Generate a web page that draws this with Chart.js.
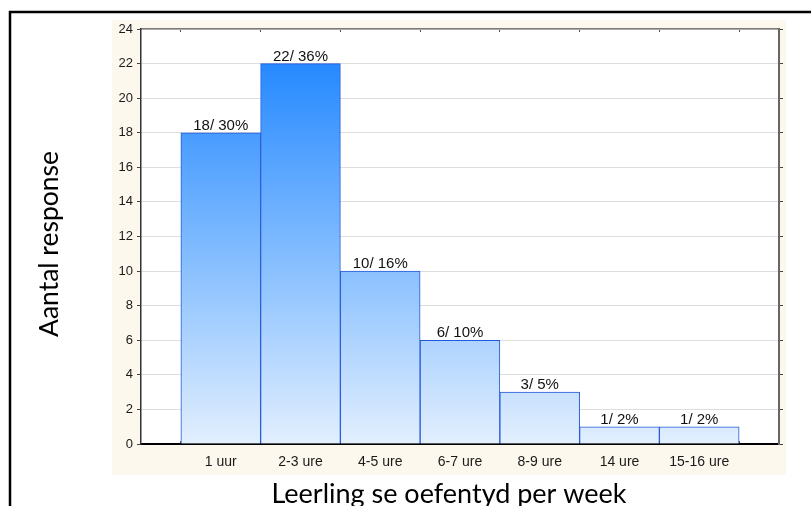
<!DOCTYPE html>
<html>
<head>
<meta charset="utf-8">
<script src="https://cdn.jsdelivr.net/npm/chart.js@4"></script>
<style>
  html, body { margin: 0; padding: 0; background: #ffffff; }
  #wrap { width: 811px; height: 506px; position: relative; }
</style>
</head>
<body>
<div id="wrap"><canvas id="c" width="811" height="506"></canvas></div>
<script>
// ---- data ----
const categories = ['1 uur', '2-3 ure', '4-5 ure', '6-7 ure', '8-9 ure', '14 ure', '15-16 ure'];
const counts = [18, 22, 10, 6, 3, 1, 1];
const percentages = [30, 36, 16, 10, 5, 2, 2];
const yTicks = [0, 2, 4, 6, 8, 10, 12, 14, 16, 18, 20, 22, 24];
const yTitle = 'Aantal response';
const xTitle = 'Leerling se oefentyd per week';

// padded category axis (half-slot margin on each side)
const labels = [''].concat(categories, ['']);
const values = [null].concat(counts, [null]);

const xTickFont = { family: '"Liberation Sans", Arial, sans-serif', size: 14 };
const yTickFont = { family: '"Liberation Sans", Arial, sans-serif', size: 13 };

const framePlugin = {
  id: 'frame',
  beforeDraw(chart) {
    const ctx = chart.ctx;
    ctx.save();
    ctx.fillStyle = '#ffffff';
    ctx.fillRect(0, 0, chart.width, chart.height);
    ctx.fillStyle = '#fdf8ed';
    ctx.fillRect(112, 20, 674, 455);
    const a = chart.chartArea;
    ctx.fillStyle = '#ffffff';
    ctx.fillRect(a.left, a.top, a.right - a.left, a.bottom - a.top);
    ctx.strokeStyle = '#000000';
    ctx.lineWidth = 2.5;
    ctx.beginPath();
    ctx.moveTo(10, chart.height + 5);
    ctx.lineTo(10, 12);
    ctx.lineTo(chart.width + 5, 12);
    ctx.stroke();
    ctx.restore();
  },
  afterDraw(chart) {
    const ctx = chart.ctx;
    ctx.save();
    ctx.fillStyle = '#000000';
    ctx.textAlign = 'center';
    ctx.textBaseline = 'alphabetic';
    ctx.font = '27px Lato, "Open Sans", sans-serif';
    ctx.fillText(xTitle, 449, 503);
    ctx.font = '26.5px Lato, "Open Sans", sans-serif';
    ctx.translate(58, 244);
    ctx.rotate(-Math.PI / 2);
    ctx.fillText(yTitle, 0, 0);
    ctx.restore();
  }
};

const barLabelPlugin = {
  id: 'barLabels',
  afterDatasetsDraw(chart) {
    const ctx = chart.ctx;
    const meta = chart.getDatasetMeta(0);
    ctx.save();
    ctx.fillStyle = '#111111';
    ctx.font = '15px "Liberation Sans", Arial, sans-serif';
    ctx.textAlign = 'center';
    ctx.textBaseline = 'alphabetic';
    meta.data.forEach((bar, i) => {
      const k = i - 1;
      if (k < 0 || k >= counts.length) return;
      ctx.fillText(counts[k] + '/ ' + percentages[k] + '%', bar.x, bar.y - 3);
    });
    ctx.restore();
  }
};

function barGradient(context) {
  const chart = context.chart;
  const a = chart.chartArea;
  if (!a) return '#4a9cff';
  const g = chart.ctx.createLinearGradient(0, a.top, 0, a.bottom);
  g.addColorStop(0, '#1580ff');
  g.addColorStop(0.55, '#84bdff');
  g.addColorStop(1, '#e2effe');
  return g;
}

new Chart(document.getElementById('c'), {
  type: 'bar',
  data: {
    labels: labels,
    datasets: [{
      data: values,
      backgroundColor: barGradient,
      borderColor: '#2358d8',
      borderWidth: 1,
      borderSkipped: 'start',
      barPercentage: 1,
      categoryPercentage: 1,
      xAxisID: 'x',
      yAxisID: 'y'
    }]
  },
  options: {
    responsive: false,
    animation: false,
    devicePixelRatio: 1,
    layout: { padding: 0 },
    plugins: { legend: { display: false }, tooltip: { enabled: false }, title: { display: false } },
    scales: {
      x: {
        type: 'category',
        position: 'bottom',
        offset: false,
        grid: { drawOnChartArea: false, tickLength: -3, color: '#555555', lineWidth: 1 },
        border: { display: true, color: '#000000', width: 2 },
        ticks: { color: '#1a1a1a', font: xTickFont, padding: 13, maxRotation: 0, autoSkip: false },
        afterFit(s) { s.height = 62; }
      },
      xTop: {
        type: 'category',
        position: 'top',
        offset: false,
        labels: labels,
        grid: { drawOnChartArea: false, tickLength: -3, color: '#555555', lineWidth: 1 },
        border: { display: true, color: '#7a7a7a', width: 1.5 },
        ticks: { display: false },
        afterFit(s) { s.height = 29; }
      },
      y: {
        position: 'left',
        min: 0,
        max: 24,
        afterBuildTicks(s) { s.ticks = yTicks.map(v => ({ value: v })); },
        grid: { color: '#dddddd', lineWidth: 1, tickLength: 4, tickColor: '#444444' },
        border: { display: true, color: '#333333', width: 1.5 },
        ticks: { color: '#1a1a1a', font: yTickFont, padding: 4 },
        afterFit(s) { s.width = 141; }
      },
      yR: {
        position: 'right',
        min: 0,
        max: 24,
        afterBuildTicks(s) { s.ticks = yTicks.map(v => ({ value: v })); },
        grid: { drawOnChartArea: false, tickLength: 4, color: '#444444' },
        border: { display: true, color: '#666666', width: 2 },
        ticks: { display: false },
        afterFit(s) { s.width = 32; }
      }
    }
  },
  plugins: [framePlugin, barLabelPlugin]
});
</script>
</body>
</html>
